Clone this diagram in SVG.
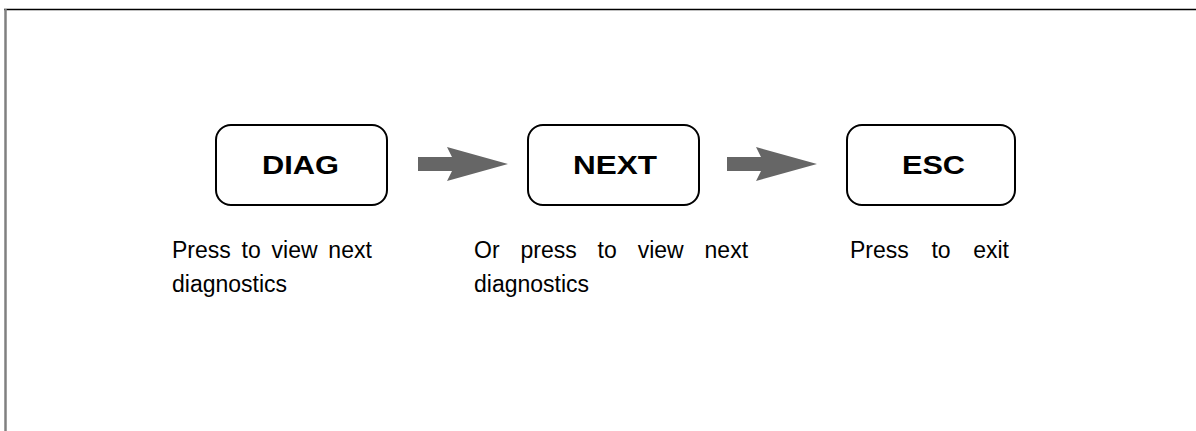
<svg xmlns="http://www.w3.org/2000/svg" width="1196" height="431" viewBox="0 0 1196 431">
<style>
.box{fill:#fff;stroke:#000;stroke-width:2}
.key{font-family:"Liberation Sans",Arial,sans-serif;font-weight:bold;font-size:26px;fill:#000}
.lbl{font-family:"Liberation Sans",Arial,sans-serif;font-size:23px;fill:#000}
.arrow{fill:#666}
</style>
<rect x="0" y="0" width="1196" height="431" fill="#fff"/>
<g id="frame">
<line x1="4" y1="9.5" x2="1196" y2="9.5" stroke="#000" stroke-width="1.5"/>
<line x1="5.5" y1="9" x2="5.5" y2="431" stroke="#808080" stroke-width="2.5"/>
</g>
<g id="connectors">
<polygon class="arrow" points="418,157 452,157 447,147 508,164 447,181 452,171 418,171"/>
<polygon class="arrow" points="727,157 761,157 756,147 817,164 756,181 761,171 727,171"/>
</g>
<g id="node-diag">
<rect class="box" x="216" y="125" width="171" height="80" rx="15"/>
<text class="key" x="262" y="174" textLength="77" lengthAdjust="spacingAndGlyphs">DIAG</text>
<text class="lbl" x="172" y="258" word-spacing="4.4">Press to view next</text>
<text class="lbl" x="172" y="292">diagnostics</text>
</g>
<g id="node-next">
<rect class="box" x="528" y="125" width="171" height="80" rx="15"/>
<text class="key" x="573" y="174" textLength="84" lengthAdjust="spacingAndGlyphs">NEXT</text>
<text class="lbl" x="474" y="258" word-spacing="14.5">Or press to view next</text>
<text class="lbl" x="474" y="292">diagnostics</text>
</g>
<g id="node-esc">
<rect class="box" x="847" y="125" width="168" height="80" rx="15"/>
<text class="key" x="902" y="174" textLength="63" lengthAdjust="spacingAndGlyphs">ESC</text>
<text class="lbl" x="850" y="258" word-spacing="16.2">Press to exit</text>
</g>
</svg>
